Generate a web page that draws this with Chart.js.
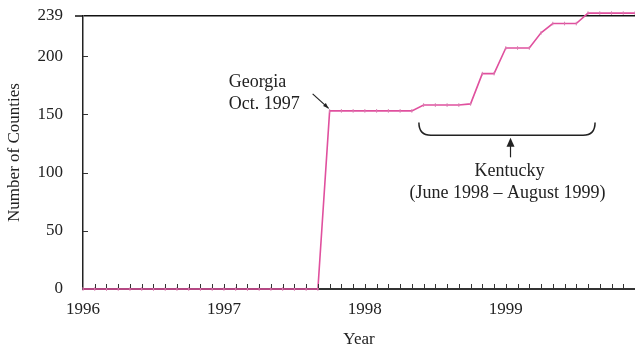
<!DOCTYPE html>
<html>
<head>
<meta charset="utf-8" />
<script src="https://cdn.jsdelivr.net/npm/chart.js@4.4.0/dist/chart.umd.min.js"></script>
<style>
  body { margin:0; background:#fff; }
  #wrap { width:635px; height:348px; }
</style>
</head>
<body>
<div id="wrap"><canvas id="chart"></canvas></div>
<script>
// month index, 0 = Jan 1996
const months   = [0,1,2,3,4,5,6,7,8,9,10,11,12,13,14,15,16,17,18,19,20,
                  21,22,23,24,25,26,27,28,29,30,31,32,33,34,35,36,37,38,39,40,41,42,43,44,45,46,47];
const counties = [0,0,0,0,0,0,0,0,0,0,0,0,0,0,0,0,0,0,0,0,0,
                  153,153,153,153,153,153,153,153,158,158,158,158,159,185,185,207,207,207,220,228,228,228,237,237,237,237,237];
const yearTicks  = [0, 12, 24, 36];
const yearLabels = ['1996', '1997', '1998', '1999'];
const yTicks     = [0, 50, 100, 150, 200, 234.5];
const yLabels    = ['0', '50', '100', '150', '200', '239'];
const TOP = 234.5;

const FONT = '"Liberation Serif", "Times New Roman", serif';
const INK = '#222';
const PINK = '#e0509e';

const extras = {
  id: 'extras',
  afterDatasetsDraw(chart) {
    const { ctx, chartArea: a, scales: { x, y } } = chart;
    ctx.save();
    // inward tick marks
    ctx.strokeStyle = '#333';
    ctx.lineWidth = 1;
    ctx.beginPath();
    for (let m = 1; m <= 47; m++) {
      const px = Math.round(x.getPixelForValue(m)) + 0.5;
      ctx.moveTo(px, a.bottom - 1);
      ctx.lineTo(px, a.bottom - 5);
    }
    [50, 100, 150, 200].forEach(v => {
      const py = Math.round(y.getPixelForValue(v)) + 0.5;
      ctx.moveTo(a.left, py);
      ctx.lineTo(a.left + 5, py);
    });
    ctx.stroke();

    ctx.strokeStyle = INK;
    ctx.fillStyle = INK;
    ctx.lineWidth = 1.2;

    // Georgia arrow
    const gx = x.getPixelForValue(21), gy = y.getPixelForValue(153);
    const ax0 = gx - 17, ay0 = gy - 17, ax1 = gx - 1, ay1 = gy - 2.5;
    ctx.beginPath(); ctx.moveTo(ax0, ay0); ctx.lineTo(ax1, ay1); ctx.stroke();
    const ang = Math.atan2(ay1 - ay0, ax1 - ax0);
    ctx.beginPath();
    ctx.moveTo(ax1, ay1);
    ctx.lineTo(ax1 - 6 * Math.cos(ang - 0.35), ay1 - 6 * Math.sin(ang - 0.35));
    ctx.lineTo(ax1 - 6 * Math.cos(ang + 0.35), ay1 - 6 * Math.sin(ang + 0.35));
    ctx.closePath(); ctx.fill();

    ctx.font = '18px ' + FONT;
    ctx.textAlign = 'left';
    ctx.textBaseline = 'alphabetic';
    ctx.fillText('Georgia', gx - 101, gy - 24);
    ctx.fillText('Oct. 1997', gx - 101, gy - 2);

    // Kentucky brace
    const bl = x.getPixelForValue(28.6), br = x.getPixelForValue(43.6);
    const bt = y.getPixelForValue(143), bb = y.getPixelForValue(132);
    const r = 12;
    ctx.lineWidth = 1.5;
    ctx.beginPath();
    ctx.moveTo(bl, bt);
    ctx.quadraticCurveTo(bl, bb, bl + r, bb);
    ctx.lineTo(br - r, bb);
    ctx.quadraticCurveTo(br, bb, br, bt);
    ctx.stroke();

    const kx = x.getPixelForValue(36.4);
    const tip = bb + 2.5, base = bb + 22;
    ctx.lineWidth = 1.2;
    ctx.beginPath(); ctx.moveTo(kx, tip + 6); ctx.lineTo(kx, base); ctx.stroke();
    ctx.beginPath();
    ctx.moveTo(kx, tip); ctx.lineTo(kx - 4, tip + 9); ctx.lineTo(kx + 4, tip + 9);
    ctx.closePath(); ctx.fill();

    ctx.textAlign = 'center';
    ctx.fillText('Kentucky', kx - 1, bb + 40.5);
    ctx.fillText('(June 1998 \u2013 August 1999)', kx - 3, bb + 63);

    // top line short extension left of the axis
    const ty = y.getPixelForValue(TOP);
    ctx.strokeStyle = '#111';
    ctx.lineWidth = 1.5;
    ctx.beginPath(); ctx.moveTo(a.left - 8, ty); ctx.lineTo(a.left, ty); ctx.stroke();
    ctx.restore();
  }
};

new Chart(document.getElementById('chart'), {
  type: 'line',
  data: {
    datasets: [{
      data: months.map((m, i) => ({ x: m, y: counties[i] })),
      borderColor: PINK,
      borderWidth: 1.6,
      pointStyle: 'line',
      pointRotation: 90,
      pointRadius: 1.8,
      pointBorderWidth: 1,
      pointBorderColor: '#d87fb0',
      tension: 0,
      clip: 8
    }]
  },
  options: {
    responsive: true,
    maintainAspectRatio: false,
    animation: false,
    layout: { autoPadding: false, padding: { top: 16, right: 0, left: 0, bottom: 0 } },
    plugins: { legend: { display: false }, tooltip: { enabled: false } },
    scales: {
      x: {
        type: 'linear', min: 0, max: 47,
        afterBuildTicks: s => { s.ticks = yearTicks.map(v => ({ value: v })); },
        afterFit: s => { s.height = 59; },
        ticks: {
          callback: v => yearLabels[yearTicks.indexOf(v)],
          font: { family: FONT, size: 17 }, color: INK, padding: 0, maxRotation: 0
        },
        grid: { drawOnChartArea: false, drawTicks: true, tickLength: 10, tickColor: 'rgba(0,0,0,0)' },
        border: { color: '#333', width: 2 },
        title: { display: true, text: 'Year', font: { family: FONT, size: 17, lineHeight: 1 }, color: INK, padding: { top: 0, bottom: 0 } }
      },
      y: {
        min: 0, max: TOP,
        afterBuildTicks: s => { s.ticks = yTicks.map(v => ({ value: v })); },
        afterFit: s => { s.width = 83; },
        ticks: {
          callback: v => yLabels[yTicks.indexOf(v)],
          font: { family: FONT, size: 17 }, color: INK, padding: 0
        },
        grid: {
          drawTicks: true,
          tickLength: 20,
          tickColor: 'rgba(0,0,0,0)',
          color: c => (c.tick && c.tick.value === TOP) ? '#111' : 'rgba(0,0,0,0)',
          lineWidth: 1.5
        },
        border: { color: INK, width: 1.5 },
        title: { display: true, text: 'Number of Counties', font: { family: FONT, size: 17 }, color: INK }
      }
    }
  },
  plugins: [extras]
});
</script>
</body>
</html>
